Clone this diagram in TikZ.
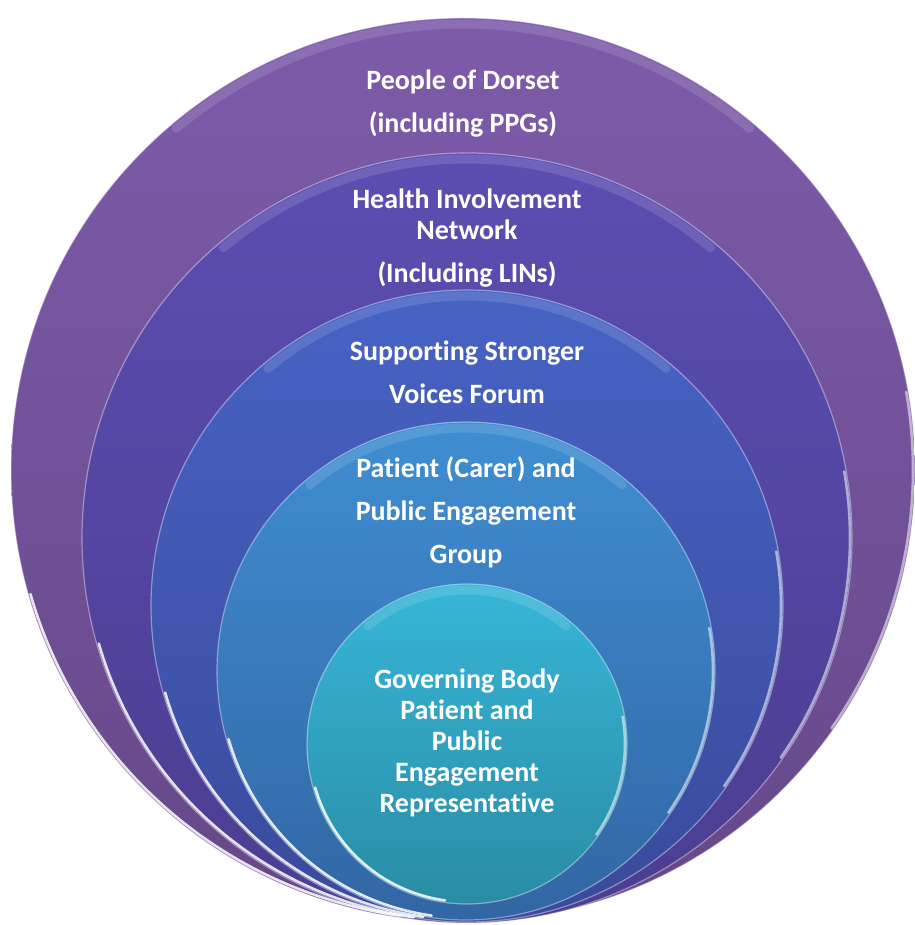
\documentclass[tikz,border=0pt]{standalone}
\usepackage{fontspec}
\setmainfont{Carlito}[Ligatures=NoCommon]
\usetikzlibrary{positioning}

\definecolor{dorsettop}{HTML}{7D5BAA}
\definecolor{dorsetbot}{HTML}{664888}
\definecolor{hintop}{HTML}{5C4EB2}
\definecolor{hinbot}{HTML}{4B3D90}
\definecolor{ssvtop}{HTML}{4763C4}
\definecolor{ssvbot}{HTML}{3A4A9C}
\definecolor{pcpetop}{HTML}{3F8ED2}
\definecolor{pcpebot}{HTML}{3266A4}
\definecolor{gbtop}{HTML}{37B6D8}
\definecolor{gbbot}{HTML}{2A8CA4}

\begin{document}
\begin{tikzpicture}[x=1pt,y=1pt,
    disc/.style={circle, inner sep=0pt, outer sep=0pt, draw=white, draw opacity=0.4, line width=1.2pt},
    ringtext/.style={text=white, font=\bfseries\fontsize{28}{31}\selectfont, align=center, inner sep=0pt},
    rim/.style={draw=white, line width=2.6pt, line cap=round, opacity=0.85},
    glow/.style={draw=white, line width=9pt, line cap=round, opacity=0.12}]
    \useasboundingbox (0,0) rectangle (914,925);

    % nested discs, all resting on the same bottom line
    \node[disc, minimum size=904pt, top color=dorsettop, bottom color=dorsetbot] (outer) at (463,455) {};
    \node[disc, minimum size=770pt, top color=hintop, bottom color=hinbot] (hin) at (467,387) {};
    \node[disc, minimum size=632pt, top color=ssvtop, bottom color=ssvbot] (ssv) at (467,319) {};
    \node[disc, minimum size=498pt, top color=pcpetop, bottom color=pcpebot] (pcpe) at (466,254) {};
    \node[disc, minimum size=320pt, top color=gbtop, bottom color=gbbot] (gb) at (467,181) {};

    % glossy highlights
    \foreach \c/\r in {outer/452, hin/385, ssv/316, pcpe/249, gb/160} {
        \draw[rim] ([shift={(196:\r-2)}]\c.center) arc[start angle=196, end angle=262, radius=\r-2];
        \draw[rim, opacity=0.55] ([shift={(-35:\r-2)}]\c.center) arc[start angle=-35, end angle=10, radius=\r-2];
        \draw[glow] ([shift={(50:\r-6)}]\c.center) arc[start angle=50, end angle=130, radius=\r-6];
    }

    % labels
    \node[ringtext, below=52pt of outer.north] (dorset) {People of Dorset\\[12pt](including PPGs)};
    \node[ringtext, below=36pt of hin.north] (hinlabel) {Health Involvement\\Network\\[12pt](Including LINs)};
    \node[ringtext, below=51pt of ssv.north] (ssvlabel) {Supporting Stronger\\[12pt]Voices Forum};
    \node[ringtext, below=35pt of pcpe.north] (pcpelabel) {Patient (Carer) and\\[12pt]Public Engagement\\[12pt]Group};
    \node[ringtext, below=85pt of gb.north] (gblabel) {Governing Body\\Patient and\\Public\\Engagement\\Representative};
\end{tikzpicture}
\end{document}
